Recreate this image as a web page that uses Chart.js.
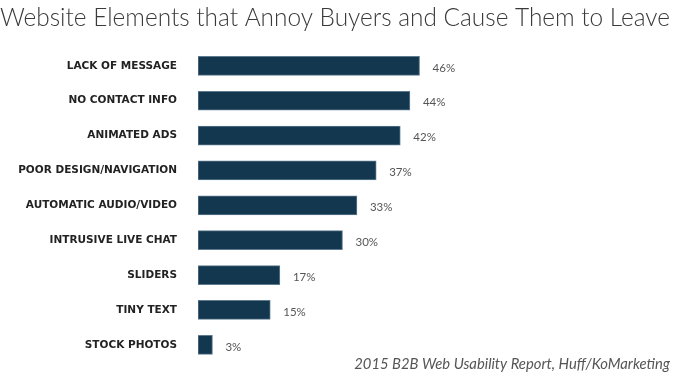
<!DOCTYPE html>
<html>
<head>
<meta charset="utf-8">
<script src="https://cdn.jsdelivr.net/npm/chart.js@4"></script>
<style>
  html, body { margin: 0; padding: 0; background: #fff; }
  #wrap { width: 682px; height: 384px; }
</style>
</head>
<body>
<div id="wrap"><canvas id="chart"></canvas></div>
<script>
// ==================== DATA ====================
const categories = [
  'LACK OF MESSAGE',
  'NO CONTACT INFO',
  'ANIMATED ADS',
  'POOR DESIGN/NAVIGATION',
  'AUTOMATIC AUDIO/VIDEO',
  'INTRUSIVE LIVE CHAT',
  'SLIDERS',
  'TINY TEXT',
  'STOCK PHOTOS'
];
const percentValues = [46, 44, 42, 37, 33, 30, 17, 15, 3];
const titleText = 'Website Elements that Annoy Buyers and Cause Them to Leave';
const sourceText = '2015 B2B Web Usability Report, Huff/KoMarketing';

// value labels to the right of each bar
const valueLabels = {
  id: 'valueLabels',
  afterDatasetsDraw(chart) {
    const ctx = chart.ctx;
    const meta = chart.getDatasetMeta(0);
    ctx.save();
    ctx.font = '11.5px Lato';
    ctx.fillStyle = '#555';
    ctx.textAlign = 'left';
    ctx.textBaseline = 'middle';
    meta.data.forEach((bar, i) => {
      ctx.fillText(percentValues[i] + '%', bar.x + 13, bar.y + 2);
    });
    ctx.restore();
  }
};

new Chart(document.getElementById('chart'), {
  type: 'bar',
  data: {
    labels: categories,
    datasets: [{
      data: percentValues,
      backgroundColor: '#12374f',
      borderColor: '#5d7a8e',
      borderWidth: 1,
      borderSkipped: false,
      barThickness: 19
    }]
  },
  options: {
    indexAxis: 'y',
    responsive: true,
    maintainAspectRatio: false,
    animation: false,
    layout: { padding: { top: 3, right: 12, bottom: 11, left: 0 } },
    plugins: {
      legend: { display: false },
      tooltip: { enabled: false },
      title: {
        display: true,
        text: titleText,
        align: 'start',
        color: '#3a3a3a',
        font: { family: 'Lato', size: 24.5, weight: '300' },
        padding: { top: 0, bottom: 16 }
      },
      subtitle: {
        display: true,
        position: 'bottom',
        text: sourceText,
        align: 'end',
        color: '#555',
        font: { family: 'Lato', size: 14.8, style: 'italic' },
        padding: { top: -7, bottom: 0 }
      }
    },
    scales: {
      x: {
        display: false,
        min: 0,
        max: 98
      },
      y: {
        afterFit(scale) { scale.width = 198; },
        grid: { display: false },
        border: { display: false },
        ticks: {
          color: '#222',
          padding: 13,
          font: { family: 'DejaVu Sans', size: 10.5, weight: 'bold' }
        }
      }
    }
  },
  plugins: [valueLabels]
});
</script>
</body>
</html>
